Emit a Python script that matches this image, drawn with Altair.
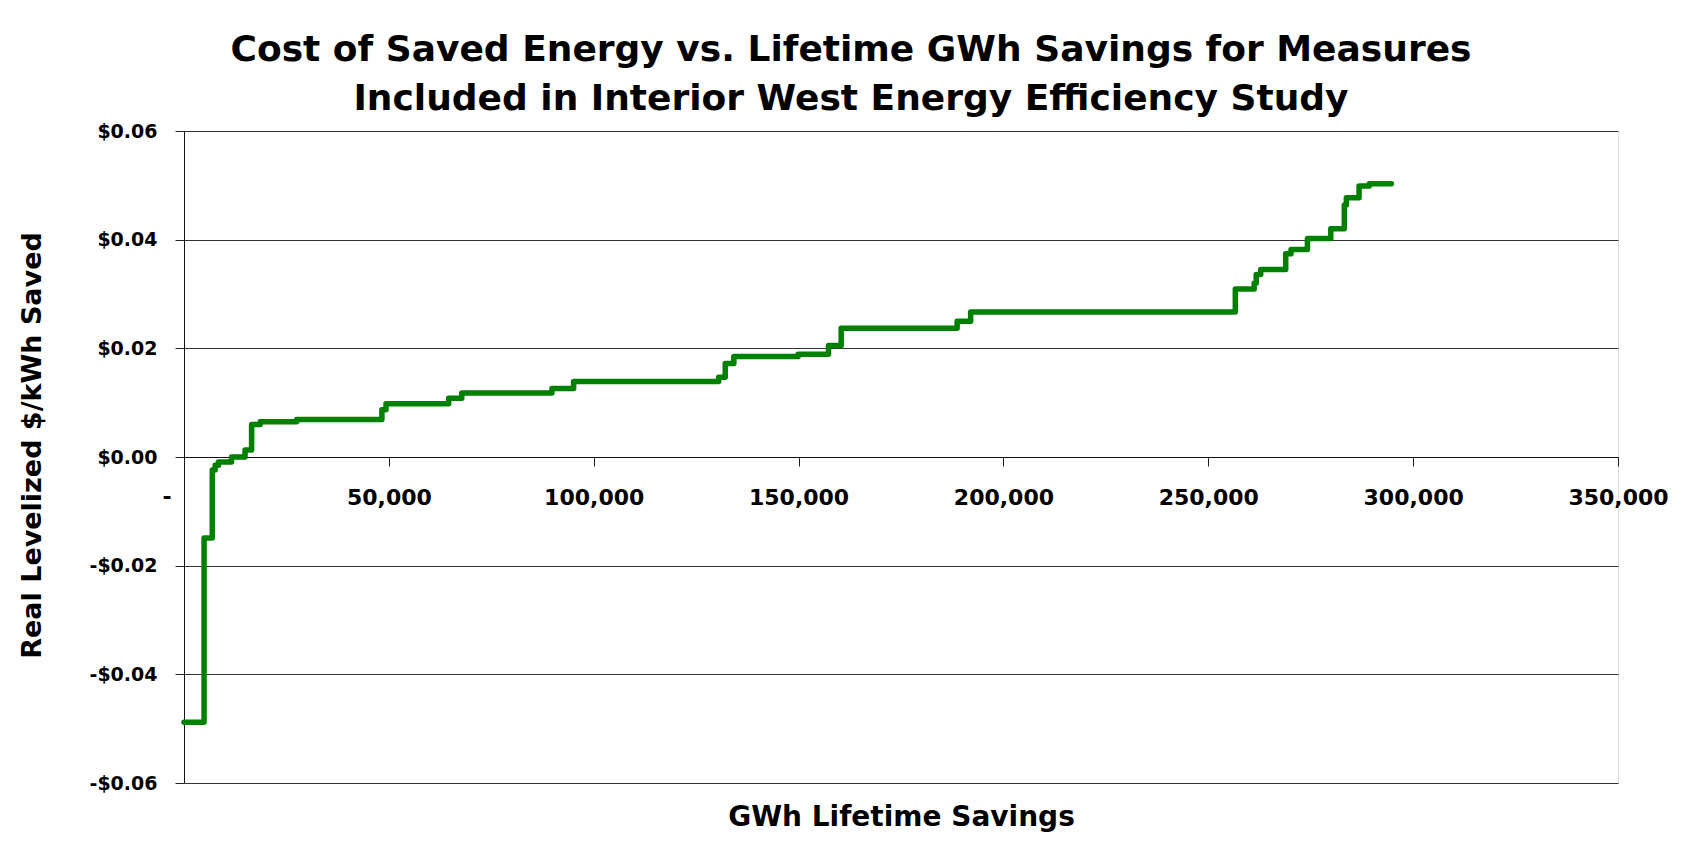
import altair as alt
import pandas as pd

# Step points: cumulative lifetime GWh savings where each cost level starts
gwh = [0, 4900, 6900, 7600, 8400, 11600, 14900, 16500, 18600, 27500,
       48300, 49300, 64600, 67800, 89800, 95100, 130500, 132100, 134200,
       149900, 157300, 160400, 188700, 192000, 256600, 261200, 261700,
       262800, 268900, 270200, 274200, 279900, 283200, 283700, 286800,
       289300, 294700]
cost = [-0.0488, -0.0149, -0.0024, -0.0015, -0.0009, 0.0000, 0.0013, 0.0060,
        0.0065, 0.0069, 0.0087, 0.0098, 0.0108, 0.0118, 0.0126, 0.0139,
        0.0147, 0.0172, 0.0185, 0.0189, 0.0205, 0.0237, 0.0250, 0.0267,
        0.0309, 0.0320, 0.0336, 0.0345, 0.0374, 0.0382, 0.0402, 0.0420,
        0.0464, 0.0477, 0.0499, 0.0503, 0.0503]

x_ticks = [0, 50000, 100000, 150000, 200000, 250000, 300000, 350000]
y_ticks = [-0.06, -0.04, -0.02, 0.0, 0.02, 0.04, 0.06]

title_lines = ["Cost of Saved Energy vs. Lifetime GWh Savings for Measures",
               "Included in Interior West Energy Efficiency Study"]
x_title = "GWh Lifetime Savings"
y_title = "Real Levelized $/kWh Saved"
zero_label = ["-"]

df = pd.DataFrame({"gwh": gwh, "cost": cost})
zero_df = pd.DataFrame({"gwh": [0], "cost": [0.0], "label": zero_label})

W, H = 1434, 652
FONT = "DejaVu Sans"

x_enc = alt.X(
    "gwh:Q",
    scale=alt.Scale(domain=[0, 350000], nice=False, zero=False),
    axis=alt.Axis(
        values=x_ticks,
        offset=-H / 2,
        grid=False,
        labelExpr="datum.value == 0 ? '' : format(datum.value, ',')",
        labelFont=FONT, labelFontWeight="bold", labelFontSize=22,
        labelColor="black", labelPadding=21, labelFlush=False,
        tickSize=9, tickColor="#222", domainColor="#111",
        title=x_title, titleFont=FONT, titleFontWeight="bold",
        titleFontSize=28, titleColor="black", titleBaseline="alphabetic",
        titleY=368, titleAnchor="middle",
    ),
)
y_enc = alt.Y(
    "cost:Q",
    scale=alt.Scale(domain=[-0.06, 0.06], nice=False, zero=False),
    axis=alt.Axis(
        values=y_ticks,
        labelExpr="(datum.value < -1e-9 ? '-' : '') + '$' + format(abs(datum.value), '.2f')",
        labelFont=FONT, labelFontWeight="bold", labelFontSize=19,
        labelColor="black", labelPadding=18, labelFlush=False,
        tickSize=9, tickColor="#222", domainColor="#111",
        grid=True, gridColor="#333", gridWidth=1,
        title=y_title, titleFont=FONT, titleFontWeight="bold",
        titleFontSize=27, titleColor="black", titleBaseline="alphabetic",
        titleX=-144, titleY=314, titleAlign="center", titleAngle=-90,
    ),
)

line = alt.Chart(df).mark_line(
    color="#008000", strokeWidth=5.5, interpolate="step-after",
    strokeCap="round", strokeJoin="round",
).encode(x=x_enc, y=y_enc)

zero_txt = alt.Chart(zero_df).mark_text(
    font=FONT, fontWeight="bold", fontSize=22, color="black",
    dx=-17, dy=40, baseline="middle", align="center",
).encode(x="gwh:Q", y="cost:Q", text="label:N")

chart = alt.layer(line, zero_txt).properties(
    width=W, height=H,
    autosize=alt.AutoSizeParams(type="none"),
    padding={"left": 176, "top": 123, "right": 76, "bottom": 59},
    title=alt.TitleParams(
        text=title_lines, font=FONT, fontWeight="bold", fontSize=36,
        color="black", lineHeight=49, anchor="middle", frame="group",
        dx=-50, offset=4,
    ),
).configure_view(stroke="#7a7a7a", strokeWidth=1.5).configure(background="white")

chart.save("out.html", embed_options={"renderer": "svg", "actions": False})
